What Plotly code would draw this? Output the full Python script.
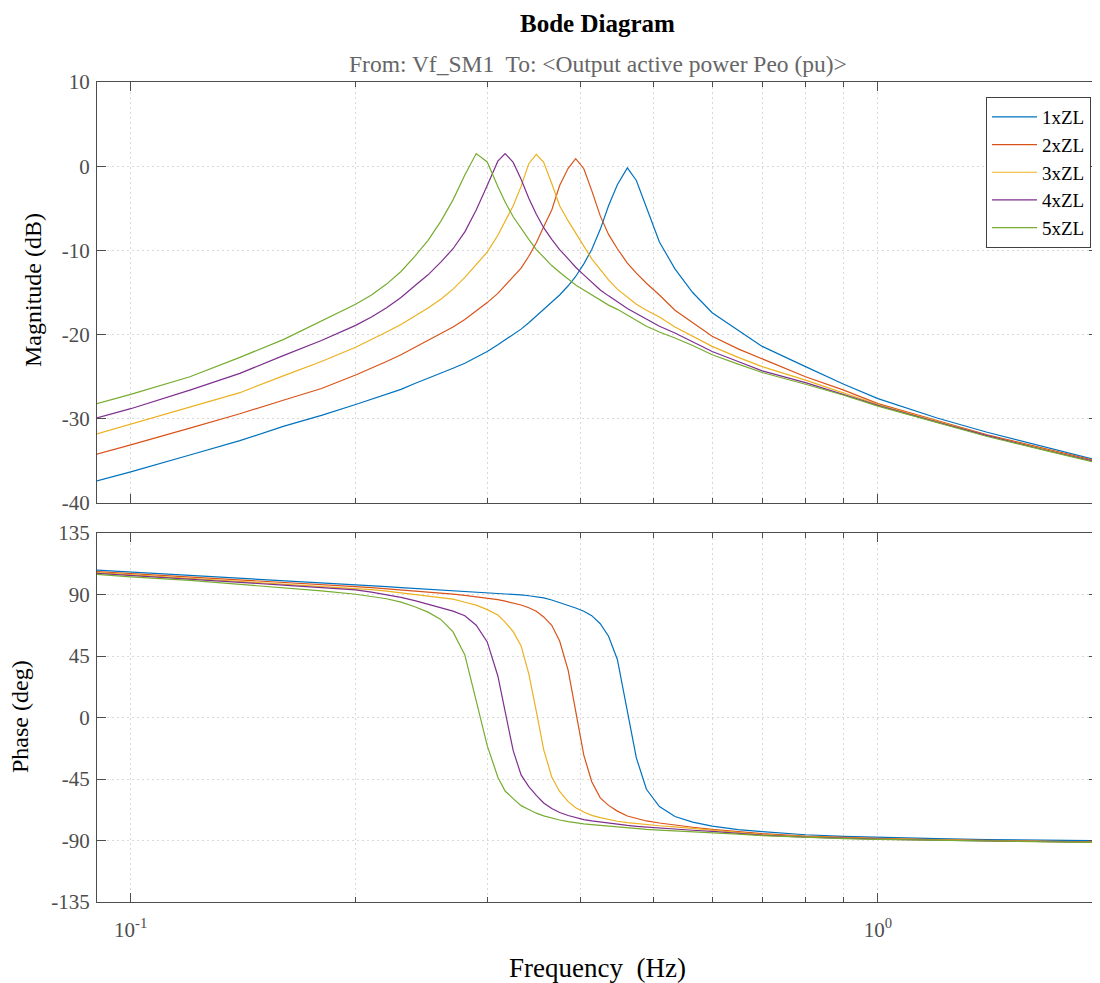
import plotly.graph_objects as go
from plotly.subplots import make_subplots

# Frequency grid (Hz)
freq = [0.09, 0.10, 0.12, 0.14, 0.16, 0.18, 0.20, 0.21, 0.22, 0.23, 0.24,
        0.25, 0.26, 0.27, 0.28, 0.29, 0.30, 0.31,
        0.317, 0.325, 0.333, 0.341, 0.349, 0.357, 0.366, 0.375, 0.385, 0.394,
        0.404, 0.414, 0.425, 0.436, 0.448, 0.462, 0.475, 0.49, 0.51, 0.535, 0.565,
        0.6, 0.65, 0.7, 0.8, 0.9, 1.0, 1.2, 1.4, 1.7, 2.0]

series_names = ["1xZL", "2xZL", "3xZL", "4xZL", "5xZL"]
series_colors = ["#0072BD", "#D95319", "#EDB120", "#7E2F8E", "#77AC30"]

# Magnitude (dB)
mag_1 = [-37.4, -36.3, -34.3, -32.6, -30.9, -29.6, -28.3, -27.7, -27.1, -26.5, -25.8,
         -25.2, -24.6, -24.0, -23.4, -22.7, -22.0, -21.2,
         -20.6, -20.0, -19.35, -18.6, -17.8, -17.0, -16.2, -15.3, -14.2, -13.1,
         -11.6, -9.9, -7.5, -4.7, -2.2, -0.2, -1.7, -5.0, -9.0, -12.2, -15.0,
         -17.4, -19.5, -21.4, -23.8, -25.9, -27.6, -29.9, -31.6, -33.5, -35.1]
mag_2 = [-34.2, -33.1, -31.1, -29.4, -27.8, -26.4, -24.8, -24.0, -23.2, -22.4, -21.5,
         -20.7, -19.9, -19.1, -18.2, -17.2, -16.2, -15.1,
         -14.2, -13.2, -12.1, -10.7, -9.1, -7.2, -5.2, -2.3, -0.25, 0.9,
         -0.3, -2.9, -5.9, -8.1, -9.8, -11.5, -12.7, -13.9, -15.3, -17.1, -18.6,
         -20.2, -21.7, -22.9, -25.0, -26.6, -28.2, -30.2, -31.9, -33.7, -35.2]
mag_3 = [-31.8, -30.65, -28.6, -26.9, -24.9, -23.2, -21.5, -20.6, -19.7, -18.8, -17.85,
         -16.85, -15.8, -14.6, -13.2, -11.7, -10.2, -8.2,
         -6.6, -4.7, -2.4, 0.3, 1.4, 0.45, -2.05, -4.7, -6.5, -8.0,
         -9.5, -11.0, -12.3, -13.5, -14.6, -15.5, -16.4, -17.1, -17.9, -19.1, -20.2,
         -21.4, -22.7, -23.8, -25.4, -26.9, -28.3, -30.3, -32.0, -33.8, -35.3]
mag_4 = [-29.9, -28.8, -26.6, -24.6, -22.5, -20.7, -18.9, -17.9, -16.8, -15.6, -14.2,
         -12.9, -11.4, -9.8, -7.8, -5.2, -2.3, 0.6,
         1.5, 0.45, -1.55, -3.8, -5.7, -7.3, -8.7, -9.9, -11.0, -12.0,
         -12.9, -13.8, -14.7, -15.4, -16.1, -16.9, -17.5, -18.2, -19.0, -19.8, -20.8,
         -22.0, -23.2, -24.3, -25.7, -27.1, -28.4, -30.4, -32.0, -33.85, -35.3]
mag_5 = [-28.2, -27.1, -25.0, -22.7, -20.6, -18.4, -16.4, -15.3, -14.0, -12.5, -10.7,
         -8.8, -6.55, -4.0, -1.05, 1.5, 0.5, -2.4,
         -4.25, -6.0, -7.4, -8.7, -9.9, -10.8, -11.8, -12.6, -13.4, -14.1,
         -14.7, -15.3, -15.9, -16.5, -17.0, -17.7, -18.3, -19.0, -19.7, -20.4, -21.3,
         -22.4, -23.5, -24.5, -25.9, -27.2, -28.5, -30.5, -32.1, -33.9, -35.4]

# Phase (deg)
ph_1 = [107.9, 106.5, 104.2, 101.9, 100.1, 98.5, 97.1, 96.4, 95.7, 95.0, 94.4,
        93.8, 93.3, 92.8, 92.3, 91.8, 91.4, 91.0,
        90.6, 90.2, 89.7, 89.1, 88.4, 87.5, 86.0, 84.2, 82.0, 80.1,
        77.7, 74.5, 68.6, 59.5, 42.5, 6.0, -29.5, -52.5, -65.2, -72.4, -76.5,
        -79.5, -82.0, -83.5, -85.8, -87.0, -87.8, -88.7, -89.3, -89.8, -90.2]
ph_2 = [106.7, 105.3, 103.0, 100.6, 98.8, 97.1, 95.8, 95.0, 94.2, 93.4, 92.6,
        91.8, 91.0, 90.3, 89.4, 88.4, 87.3, 86.2,
        85.2, 83.9, 82.3, 80.3, 77.8, 73.6, 67.5, 56.0, 34.5, 4.7,
        -27.5, -47.0, -58.8, -64.3, -68.5, -72.1, -74.0, -75.7, -77.2, -78.8, -80.3,
        -81.8, -83.6, -85.0, -86.8, -87.8, -88.5, -89.4, -90.0, -90.6, -91.1]
ph_3 = [106.0, 104.5, 102.1, 99.7, 97.8, 96.0, 94.6, 93.6, 92.4, 91.2, 90.0,
        88.9, 87.8, 86.6, 84.3, 82.2, 78.9, 75.0,
        69.8, 62.8, 52.4, 32.0, 4.5, -23.5, -43.5, -54.1, -61.6, -66.0,
        -69.2, -71.6, -73.3, -74.8, -75.9, -76.9, -77.7, -78.5, -79.2, -80.0, -81.2,
        -82.6, -84.3, -85.6, -87.2, -88.2, -88.8, -89.6, -90.2, -90.8, -91.3]
ph_4 = [105.5, 104.0, 101.4, 98.9, 96.9, 95.0, 93.4, 91.8, 90.0, 87.9, 85.5,
        82.7, 80.4, 77.8, 74.5, 67.5, 55.3, 30.4,
        4.5, -24.3, -42.0, -50.5, -57.0, -62.5, -66.6, -69.5, -71.7, -73.3,
        -74.7, -75.7, -76.6, -77.4, -78.2, -79.0, -79.6, -80.2, -80.9, -81.7, -82.5,
        -83.3, -84.8, -86.0, -87.5, -88.4, -89.0, -89.8, -90.4, -90.9, -91.4]
ph_5 = [104.8, 102.9, 100.4, 97.5, 95.1, 92.6, 90.2, 88.7, 86.9, 84.4, 81.0,
        77.1, 71.8, 62.6, 45.8, 12.2, -20.6, -43.7,
        -53.8, -59.4, -64.5, -67.3, -70.0, -72.0, -73.8, -75.0, -76.2, -77.1,
        -77.8, -78.4, -79.0, -79.6, -80.4, -81.1, -81.5, -81.9, -82.4, -82.9, -83.5,
        -84.0, -85.3, -86.4, -87.8, -88.6, -89.2, -90.0, -90.5, -91.0, -91.5]

mags = [mag_1, mag_2, mag_3, mag_4, mag_5]
phases = [ph_1, ph_2, ph_3, ph_4, ph_5]

mag_ticks = [-40, -30, -20, -10, 0, 10]
mag_tick_text = ["-40", "-30", "-20", "-10", "0", "10"]
phase_ticks = [-135, -90, -45, 0, 45, 90, 135]
phase_tick_text = ["-135", "-90", "-45", "0", "45", "90", "135"]
major_x = [0.1, 1.0]
major_x_text = ["10<sup>-1</sup>", "10<sup>0</sup>"]
minor_x = [0.09, 0.2, 0.3, 0.4, 0.5, 0.6, 0.7, 0.8, 0.9, 2.0]

FONT = "Liberation Serif"
AX_COL = "#4d4d4d"
GRID_COL = "#d9d9d9"

fig = make_subplots(rows=2, cols=1, shared_xaxes=True, vertical_spacing=0.0)

for name, col, m, p in zip(series_names, series_colors, mags, phases):
    fig.add_trace(go.Scatter(x=freq, y=m, mode="lines", name=name,
                             line=dict(color=col, width=1.2), showlegend=True),
                  row=1, col=1)
    fig.add_trace(go.Scatter(x=freq, y=p, mode="lines", name=name,
                             line=dict(color=col, width=1.2), showlegend=False),
                  row=2, col=1)

xrange_log = [-1.0451, 0.2945]
common_x = dict(type="log", range=xrange_log, showline=True, linecolor=AX_COL,
                linewidth=1, mirror="ticks", ticks="inside", ticklen=9,
                tickcolor=AX_COL, tickvals=major_x, ticktext=major_x_text,
                showgrid=True, gridcolor=GRID_COL, griddash="2px,3px", gridwidth=1,
                zeroline=False, ticklabelstandoff=9,
                minor=dict(tickvals=minor_x, ticks="inside", ticklen=5,
                           tickcolor=AX_COL, showgrid=True, gridcolor=GRID_COL,
                           griddash="2px,3px", gridwidth=1),
                tickfont=dict(family=FONT, size=21, color=AX_COL))

fig.update_xaxes(**common_x)
fig.update_xaxes(showticklabels=False, row=1, col=1)
fig.update_xaxes(showticklabels=True, row=2, col=1)

common_y = dict(showline=True, linecolor=AX_COL, linewidth=1, mirror="ticks",
                ticks="inside", ticklen=9, tickcolor=AX_COL,
                showgrid=True, gridcolor=GRID_COL, griddash="2px,3px", gridwidth=1,
                zeroline=False, ticklabelstandoff=2,
                tickfont=dict(family=FONT, size=21, color=AX_COL))
fig.update_yaxes(**common_y)
fig.update_yaxes(range=[-40, 10], tickvals=mag_ticks, ticktext=mag_tick_text,
                 row=1, col=1)
fig.update_yaxes(range=[-135, 135], tickvals=phase_ticks, ticktext=phase_tick_text,
                 row=2, col=1)

H_TOT = 820.0   # plot-area height in px
W_TOT = 1001.0  # plot-area width in px
fig.update_layout(
    yaxis=dict(domain=[399 / H_TOT, 1.0]),
    yaxis2=dict(domain=[0.0, 369 / H_TOT]),
)

# page body has an 8px margin: the figure is shrunk by 8px so it fits the window
fig.update_layout(
    width=1092, height=975,
    margin=dict(l=89, r=2, t=74, b=81),
    paper_bgcolor="white", plot_bgcolor="white",
    font=dict(family=FONT, color="black"),
    showlegend=True,
    legend=dict(x=(1091 - 97) / W_TOT, y=(902 - 97) / H_TOT,
                xanchor="right", yanchor="top",
                bgcolor="white", bordercolor="#404040", borderwidth=1,
                font=dict(family=FONT, size=19, color="black"),
                itemwidth=45, tracegroupgap=0),
    annotations=[
        dict(text="<b>Bode Diagram</b>", xref="paper", yref="paper",
             x=0.5, y=(902 - 24) / H_TOT, xanchor="center", yanchor="middle",
             showarrow=False, font=dict(family=FONT, size=25, color="black")),
        dict(text="From: Vf_SM1  To: &lt;Output active power Peo (pu)&gt;",
             xref="paper", yref="paper",
             x=0.5, y=(902 - 64) / H_TOT, xanchor="center", yanchor="middle",
             showarrow=False, font=dict(family=FONT, size=23.5, color="#666666")),
        dict(text="Magnitude (dB)", xref="paper", yref="paper",
             x=(33 - 97) / W_TOT, y=(902 - 290) / H_TOT, xanchor="center",
             yanchor="middle", textangle=-90, showarrow=False,
             font=dict(family=FONT, size=24, color="black")),
        dict(text="Phase (deg)", xref="paper", yref="paper",
             x=(20 - 97) / W_TOT, y=(902 - 717) / H_TOT, xanchor="center",
             yanchor="middle", textangle=-90, showarrow=False,
             font=dict(family=FONT, size=24, color="black")),
        dict(text="Frequency  (Hz)", xref="paper", yref="paper",
             x=0.5, y=(902 - 968) / H_TOT, xanchor="center", yanchor="middle",
             showarrow=False, font=dict(family=FONT, size=27, color="black")),
    ],
)

fig.write_html("out.html")
